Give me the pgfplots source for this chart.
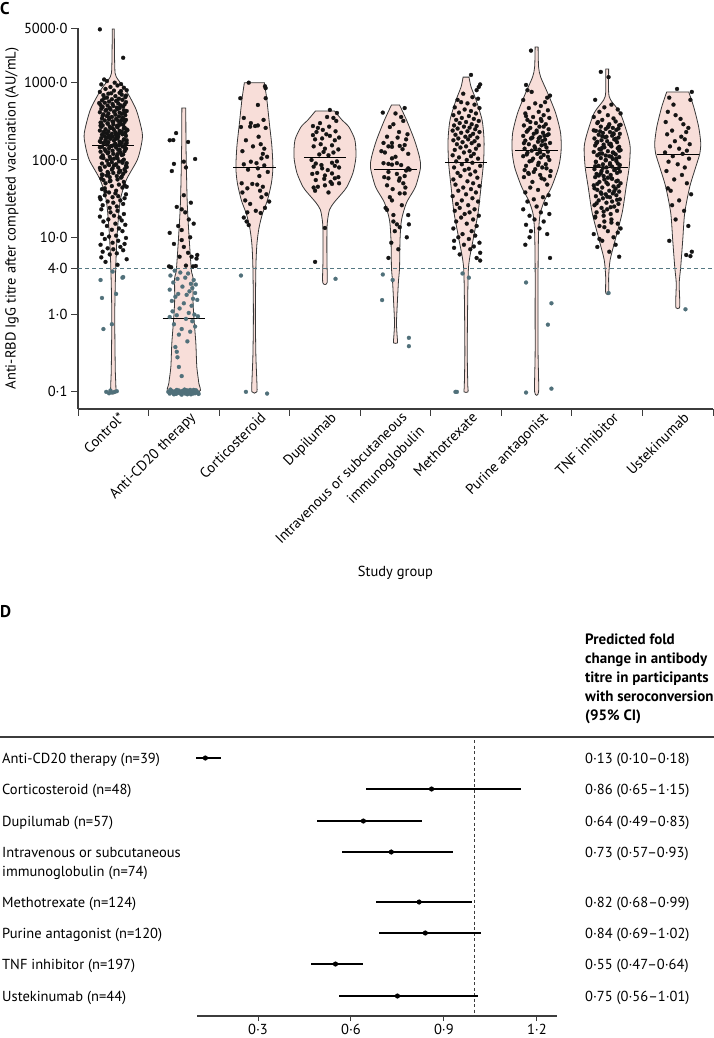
\documentclass[border=0pt]{standalone}
\usepackage{fontspec}
\setmainfont{PT Sans}
\usepackage{pgfplots}
\pgfplotsset{compat=1.18}
\definecolor{vfill}{RGB}{248,222,217}
\definecolor{vline}{RGB}{55,55,55}
\definecolor{tealpt}{RGB}{80,112,122}
\definecolor{dashc}{RGB}{85,120,130}
\definecolor{axgray}{RGB}{60,60,60}
\definecolor{ptblack}{RGB}{20,20,20}
\newcommand{\lf}{\fontsize{14.5}{17}\selectfont}
\pgfplotsset{
  violin/.style={fill=vfill, draw=vline, line width=0.8pt, smooth, tension=0.45},
  blk/.style={only marks, mark=*, mark size=2pt, mark options={draw=ptblack, fill=ptblack, line width=0.2pt}},
  tl/.style={only marks, mark=*, mark size=2pt, mark options={draw=tealpt, fill=tealpt, line width=0.2pt}},
  med/.style={black, line width=1pt},
}
\begin{document}
\begin{tikzpicture}
\path[use as bounding box] (0pt,0pt) rectangle (714pt,-1038pt);
\node[anchor=west, inner sep=0pt, font=\bfseries\fontsize{17}{20}\selectfont] at (0pt,-9pt) {C};
\begin{axis}[
  at={(78pt,-409pt)}, anchor=south west,
  width=635pt, height=381pt, scale only axis,
  xmin=-0.5, xmax=8.5, ymode=log, ymin=0.06, ymax=5100,
  axis lines=left, axis line style={-, draw=axgray, line width=1.1pt},
  tick align=outside, major tick length=7pt, tick style={axgray, line width=1pt},
  yminorticks=false,
  ytick={0.1,1,4,10,100,1000,5000},
  yticklabels={0·1,1·0,4·0,10·0,100·0,1000·0,5000·0},
  yticklabel style={font=\lf},
  xtick={-0.5,0.5,...,8.5},
  xticklabels={,,,,,,,,,},
  extra x ticks={0,1,2,3,4,5,6,7,8},
  extra x tick labels={Control*,Anti-CD20 therapy,Corticosteroid,Dupilumab,Intravenous or subcutaneous,Methotrexate,Purine antagonist,TNF inhibitor,Ustekinumab},
  extra x tick style={major tick length=0pt, xticklabel style={rotate=45, anchor=north east, font=\lf, inner sep=1pt, yshift=-4pt, xshift=3pt}},
  ylabel={Anti-RBD IgG titre after completed vaccination (AU/mL)},
  ylabel style={font=\lf, at={(axis description cs:-0.104,0.5)}, anchor=center},
  xlabel={Study group},
  xlabel style={font=\lf, at={(axis description cs:0.5,-0.43)}, anchor=center},
]
% violins
\addplot[violin] coordinates {(0.014,4950) (0.021,1600) (0.042,1190) (0.177,805) (0.326,444) (0.411,223) (0.397,156) (0.34,100) (0.184,55) (0.099,30) (0.057,11.4) (0.035,4.1) (0.021,1.0) (0.028,0.2) (0.035,0.1) (-0.035,0.1) (-0.028,0.2) (-0.021,1.0) (-0.035,4.1) (-0.057,11.4) (-0.099,30) (-0.184,55) (-0.34,100) (-0.397,156) (-0.411,223) (-0.326,444) (-0.177,805) (-0.042,1190) (-0.021,1600) (-0.014,4950)} -- cycle;
\addplot[violin] coordinates {(1.028,470) (1.031,150) (1.047,30) (1.071,11.4) (1.106,3.8) (1.13,3.0) (1.13,1.54) (1.142,0.93) (1.17,0.43) (1.184,0.21) (1.212,0.13) (1.212,0.1) (0.788,0.1) (0.788,0.13) (0.816,0.21) (0.83,0.43) (0.858,0.93) (0.87,1.54) (0.87,3.0) (0.894,3.8) (0.929,11.4) (0.953,30) (0.969,150) (0.972,470)} -- cycle;
\addplot[violin] coordinates {(2.142,1000) (2.177,600) (2.212,300) (2.248,150) (2.262,79) (2.241,50) (2.184,30) (2.113,20) (2.064,13) (2.035,8) (2.021,4) (2.014,1) (2.021,0.3) (2.033,0.15) (2.035,0.1) (1.965,0.1) (1.967,0.15) (1.979,0.3) (1.986,1) (1.979,4) (1.965,8) (1.936,13) (1.887,20) (1.816,30) (1.759,50) (1.738,79) (1.752,150) (1.788,300) (1.823,600) (1.858,1000)} -- cycle;
\addplot[violin] coordinates {(3.135,430) (3.241,330) (3.34,267) (3.425,181) (3.439,109) (3.397,68) (3.312,45) (3.241,37) (3.127,28) (3.064,22.6) (3.035,16) (3.028,11.4) (3.028,5) (3.031,2.6) (2.969,2.6) (2.972,5) (2.972,11.4) (2.965,16) (2.936,22.6) (2.873,28) (2.759,37) (2.688,45) (2.603,68) (2.561,109) (2.575,181) (2.66,267) (2.759,330) (2.865,430)} -- cycle;
\addplot[violin] coordinates {(4.057,515) (4.156,329) (4.269,181) (4.34,109) (4.354,79) (4.283,45) (4.156,28) (4.085,16.7) (4.064,9.2) (4.057,4) (4.042,2.7) (4.028,1.54) (4.014,0.78) (4.025,0.5) (4.028,0.43) (3.972,0.43) (3.975,0.5) (3.986,0.78) (3.972,1.54) (3.958,2.7) (3.943,4) (3.936,9.2) (3.915,16.7) (3.844,28) (3.717,45) (3.646,79) (3.66,109) (3.731,181) (3.844,329) (3.943,515)} -- cycle;
\addplot[violin] coordinates {(5.042,1180) (5.071,880) (5.142,597) (5.227,329) (5.255,181) (5.248,94) (5.212,44.8) (5.17,20.6) (5.099,9.2) (5.035,4.1) (5.021,1) (5.017,0.3) (5.025,0.12) (5.028,0.1) (4.972,0.1) (4.975,0.12) (4.983,0.3) (4.979,1) (4.965,4.1) (4.901,9.2) (4.83,20.6) (4.788,44.8) (4.752,94) (4.745,181) (4.773,329) (4.858,597) (4.929,880) (4.958,1180)} -- cycle;
\addplot[violin] coordinates {(6.021,2900) (6.028,1600) (6.057,1186) (6.156,736) (6.269,406) (6.34,223) (6.347,131) (6.312,81) (6.212,44.8) (6.113,30) (6.05,20) (6.028,11.4) (6.021,4) (6.021,1) (6.021,0.3) (6.028,0.1) (5.972,0.1) (5.979,0.3) (5.979,1) (5.979,4) (5.972,11.4) (5.95,20) (5.887,30) (5.788,44.8) (5.688,81) (5.653,131) (5.66,223) (5.731,406) (5.844,736) (5.943,1186) (5.972,1600) (5.979,2900)} -- cycle;
\addplot[violin] coordinates {(7.021,1500) (7.021,750) (7.05,597) (7.184,406) (7.283,223) (7.326,147) (7.312,81) (7.269,44.8) (7.212,20.6) (7.113,9.2) (7.042,5.09) (7.021,3.06) (7.021,1.9) (6.979,1.9) (6.979,3.06) (6.958,5.09) (6.887,9.2) (6.788,20.6) (6.731,44.8) (6.688,81) (6.674,147) (6.717,223) (6.816,406) (6.95,597) (6.979,750) (6.979,1500)} -- cycle;
\addplot[violin] coordinates {(8.156,760) (8.227,485) (8.297,267) (8.326,166) (8.312,120) (8.255,81) (8.17,44.8) (8.099,20.6) (8.071,9.2) (8.042,4.1) (8.021,2.56) (8.028,1.54) (8.024,1.22) (7.976,1.22) (7.972,1.54) (7.979,2.56) (7.958,4.1) (7.929,9.2) (7.901,20.6) (7.83,44.8) (7.745,81) (7.688,120) (7.674,166) (7.703,267) (7.773,485) (7.844,760)} -- cycle;
% threshold
\addplot[dashc, line width=1pt, dash pattern=on 4pt off 3pt] coordinates {(-0.5,4) (8.5,4)};
% medians
\addplot[med] coordinates {(-0.3,156) (0.3,156)};
\addplot[med] coordinates {(0.7,0.9) (1.3,0.9)};
\addplot[med] coordinates {(1.7,79) (2.3,79)};
\addplot[med] coordinates {(2.7,107) (3.3,107)};
\addplot[med] coordinates {(3.7,75.8) (4.3,75.8)};
\addplot[med] coordinates {(4.7,93.4) (5.3,93.4)};
\addplot[med] coordinates {(5.7,131) (6.3,131)};
\addplot[med] coordinates {(6.7,80.4) (7.3,80.4)};
\addplot[med] coordinates {(7.7,118) (8.3,118)};
% Control points
\addplot[blk] table {
x y
-0.19 4900
0.14 2100
-0.13 1100
-0.09 1050
0.02 1000
0.11 960
-0.17 950
0.06 920
-0.04 880
0.15 860
-0.11 830
0.19 800
0.01 790
-0.19 760
0.09 740
-0.07 720
0.12 700
-0.14 690
0.03 670
0.17 650
-0.09 640
0.08 620
-0.02 610
0.13 600
-0.16 590
0.04 580
-0.06 570
0.18 560
-0.12 550
0.07 540
-0.01 530
0.16 525
-0.18 515
0.10 510
-0.08 505
0.00 500
0.14 490
-0.15 485
0.05 475
-0.05 470
-0.17 460
0.06 455
-0.04 450
0.15 440
-0.11 435
0.19 430
0.01 420
-0.19 415
0.09 410
-0.07 400
0.12 395
-0.14 390
0.03 385
0.17 380
-0.09 370
0.08 365
-0.02 360
0.13 350
-0.16 345
0.04 340
-0.06 335
0.18 330
-0.12 325
0.07 320
-0.01 315
0.16 310
-0.18 305
0.10 300
-0.08 295
0.00 290
0.14 285
-0.15 280
0.05 275
-0.05 270
-0.17 268
0.06 265
-0.04 260
0.15 255
-0.11 250
0.19 248
0.01 245
-0.19 240
0.09 238
-0.07 235
0.12 232
-0.14 230
0.03 228
0.17 225
-0.09 222
0.08 220
-0.02 218
0.13 215
-0.16 212
0.04 210
-0.06 208
0.18 205
-0.12 203
0.07 201
-0.01 200
0.16 262
-0.18 278
0.10 288
-0.08 298
0.00 312
0.14 342
-0.15 372
0.11 780
-0.03 730
0.18 680
-0.13 630
0.05 585
-0.20 545
0.09 470
-0.10 445
0.02 425
0.16 405
-0.06 355
0.12 328
-0.17 302
0.07 282
-0.01 258
0.20 243
-0.13 226
0.04 213
-0.08 196
0.15 183
-0.18 171
0.10 161
-0.04 151
0.17 139
-0.11 131
0.06 119
-0.15 111
0.01 104
0.13 97
-0.07 89
0.19 81
-0.02 75
0.08 69
-0.16 65
0.11 59
-0.05 53
0.16 47
-0.12 43
0.03 37
-0.19 33
0.05 198
-0.05 195
-0.17 192
0.06 190
-0.04 188
0.15 185
-0.11 182
0.19 180
0.01 178
-0.19 175
0.09 172
-0.07 170
0.12 168
-0.14 165
0.03 162
0.17 160
-0.09 158
0.08 155
-0.02 152
0.13 150
-0.16 148
0.04 145
-0.06 142
0.18 140
-0.12 138
0.07 135
-0.01 132
0.16 130
-0.18 128
0.10 125
-0.08 122
0.00 120
0.14 118
-0.15 115
0.05 112
-0.05 110
-0.17 108
0.06 105
-0.04 103
0.15 101
-0.11 176
0.19 166
0.01 156
-0.19 146
0.09 136
-0.07 126
0.12 116
-0.14 106
0.03 187
0.17 143
-0.09 98
0.08 96
-0.02 94
0.13 92
-0.16 90
0.04 88
-0.06 86
0.18 84
-0.12 82
0.07 80
-0.01 78
0.16 76
-0.18 74
0.10 72
-0.08 70
0.00 68
0.14 66
-0.15 64
0.05 62
-0.05 60
-0.17 58
0.06 56
-0.04 54
0.15 52
-0.11 50
0.19 91
0.01 85
-0.19 79
0.09 73
-0.07 67
0.12 61
-0.14 55
0.03 87
0.17 71
-0.09 63
0.08 48
-0.02 46
0.13 44
-0.16 42
0.04 40
-0.06 38
0.18 36
-0.12 35
0.07 34
-0.01 33
0.16 32
-0.18 31
0.10 30
-0.08 29
0.00 28
0.14 27
-0.15 26
0.05 25
-0.05 24
-0.17 23
0.06 22
-0.04 21
0.15 20
-0.11 39
0.19 45
0.01 19
-0.19 18.5
0.09 18
-0.07 17
0.12 16.5
-0.14 16
0.03 15
0.17 14.5
-0.09 14
0.08 13
-0.02 12.5
0.13 12
-0.16 11
0.04 10.5
-0.06 10.2
0.18 9.8
-0.12 9.5
0.07 9
-0.01 8.5
0.16 8.2
-0.18 8
0.10 7.5
-0.08 7.2
0.00 7
0.14 6.8
-0.15 6.5
0.05 6.2
-0.05 6
-0.17 5.5
0.19 5.2
-0.11 4.8
0.06 4.4
};
\addplot[tl] table {
x y
-0.18 2.8
-0.16 1.64
0.04 1.85
0.14 3.06
0.13 3.0
-0.14 0.65
-0.02 0.75
-0.01 3.6
-0.10 0.1
-0.06 0.096
-0.04 0.104
-0.02 0.098
0.02 0.1
0.05 0.102
};
% Anti-CD20
\addplot[blk] table {
x y
0.85 181
0.80 180
0.89 223
1.06 171
1.16 103
0.86 89
0.83 72
1.00 95
1.03 80
1.00 35
0.90 24.7
0.97 23
1.02 21
1.10 28
1.07 17
1.14 15
0.80 11.4
0.97 12.4
0.86 8.2
0.97 9.2
1.00 7.5
0.94 5.6
1.11 5.6
1.19 5.9
1.18 5.3
1.03 4.3
0.79 4.2
0.82 4.1
1.13 4.2
1.17 4.25
1.06 6.3
0.92 14
1.09 10
};
\addplot[tl] table {
x y
0.87 3.7
0.95 3.5
1.06 3.4
0.81 3.2
1.02 3.0
0.91 2.9
1.14 2.8
0.85 2.6
1.10 2.5
1.17 2.45
0.98 2.3
1.12 2.2
0.80 2.1
1.08 2.0
1.16 1.9
0.92 1.85
1.04 1.8
0.88 1.7
1.13 1.6
1.19 1.55
0.83 1.5
1.00 1.4
1.11 1.3
0.94 1.2
0.84 1.1
1.07 1.05
1.15 1.0
0.90 0.98
1.20 0.95
0.80 0.93
1.03 0.88
1.12 0.82
0.86 0.75
1.16 0.70
0.97 0.65
1.09 0.60
0.93 0.55
0.88 0.38
0.91 0.28
0.93 0.21
0.97 0.16
0.90 0.33
1.05 0.45
0.78 0.100
0.80 0.095
0.82 0.104
0.84 0.098
0.86 0.093
0.88 0.102
0.90 0.106
0.92 0.097
0.94 0.100
0.96 0.094
0.98 0.103
1.00 0.099
1.02 0.095
1.04 0.105
1.06 0.097
1.08 0.101
1.10 0.093
1.12 0.100
1.14 0.106
1.16 0.096
1.18 0.102
1.20 0.098
1.21 0.094
0.81 0.107
0.85 0.101
0.89 0.094
0.93 0.104
0.97 0.092
1.01 0.107
1.05 0.093
1.09 0.106
1.13 0.095
1.17 0.105
0.87 0.097
1.07 0.103
};
% Corticosteroid
\addplot[blk] table {
x y
1.80 630
1.92 1000
2.15 900
2.16 850
2.16 630
2.05 515
1.81 267
1.94 270
2.01 275
2.05 280
2.16 260
1.88 180
2.09 160
1.83 130
2.12 120
2.18 110
2.10 105
1.95 95
2.03 91
1.85 88
2.14 85
2.05 78
1.91 75
2.19 70
2.07 62
1.82 50
1.97 49
2.04 48
2.12 45
1.90 43
2.08 40
1.83 38
2.17 36
2.10 33
1.87 30
2.21 29
1.94 27
2.15 24
2.02 22
1.90 21
2.09 20.6
1.85 18
1.89 16
1.92 14.4
1.95 300
2.13 330
1.85 350
2.06 200
1.98 150
2.14 140
};
\addplot[tl] table {
x y
1.81 3.2
1.88 0.1
2.18 0.095
};
% Dupilumab
\addplot[blk] table {
x y
3.07 444
3.03 360
3.17 406
2.83 275
2.90 260
2.97 245
3.06 270
3.15 235
2.83 210
2.86 185
2.96 190
3.07 205
3.14 180
3.20 195
2.84 150
2.94 160
3.00 140
3.10 155
3.19 137
2.81 100
2.92 118
2.98 127
3.05 115
3.12 125
2.87 90
2.95 86
3.10 92
3.17 96
3.20 80
2.84 82
2.96 78
3.04 74
3.14 84
2.82 66
2.89 68
3.00 63
3.10 67
3.19 60
2.87 55
2.99 57
3.08 52
3.14 58
2.90 45
3.00 47
3.10 49
3.20 50
2.84 44
2.86 40
3.05 38
3.12 350
2.93 300
3.16 320
2.88 230
3.02 215
3.00 13.2
2.86 4.8
};
\addplot[tl] table {
x y
3.15 2.9
};
% IVIG
\addplot[blk] table {
x y
4.13 470
3.92 267
4.05 230
3.83 166
3.95 166
3.90 150
3.95 148
4.06 152
4.13 156
4.15 185
3.83 91
3.90 89
3.95 87
4.02 91
4.08 86
4.18 78
4.15 73
4.20 75
3.90 58
4.06 58
4.13 62
3.88 47
4.05 54
4.11 50
4.06 37
4.13 37
3.92 33
3.95 30
3.88 22.6
3.97 19.4
4.18 19.4
3.97 16
4.02 14.7
4.06 13.5
4.19 14.7
3.99 12
3.90 5.4
3.95 105
4.00 110
4.18 120
3.85 125
3.80 130
4.10 138
3.88 200
4.03 195
4.17 215
3.97 290
4.11 320
4.00 400
3.82 410
4.08 360
3.90 70
4.02 66
3.84 60
4.14 44
3.96 42
4.09 26
3.86 24
4.16 10
3.94 8.5
4.04 7
};
\addplot[tl] table {
x y
3.82 3.3
3.96 2.8
3.81 1.54
4.19 0.50
4.19 0.39
};
% Methotrexate
\addplot[blk] table {
x y
5.07 1260
5.18 880
5.20 950
5.15 800
4.96 720
5.09 650
4.88 600
5.17 620
4.93 560
5.02 540
5.12 520
4.84 480
5.19 470
4.98 450
5.07 430
4.90 410
5.14 400
4.82 380
5.04 370
4.94 350
5.11 340
4.86 330
5.18 320
5.00 310
4.91 300
5.08 290
4.83 280
5.15 275
4.97 270
5.05 262
4.88 255
5.13 250
4.81 240
5.02 235
5.19 230
4.93 225
5.10 218
4.85 212
5.06 205
4.99 200
5.16 195
4.89 190
5.03 185
4.82 180
5.12 175
4.95 170
5.08 165
4.87 160
5.18 155
5.00 150
4.92 145
5.14 140
4.84 135
5.05 130
4.97 125
5.11 120
4.81 115
5.07 112
4.90 108
5.17 104
5.01 100
4.86 96
5.09 92
4.94 88
5.20 84
4.83 80
5.04 77
4.98 74
5.13 71
4.88 68
5.06 65
4.92 62
5.16 59
4.82 56
5.02 53
5.10 50
4.85 48
5.19 46
4.96 44
5.07 42
4.89 40
5.14 38
5.00 36
4.81 34
5.09 32
4.94 30
5.17 29
4.87 27
5.03 26
4.91 24
5.12 23
4.84 22
5.05 21
4.98 20
5.18 19
4.93 18
5.10 17
4.86 16
5.01 15
5.15 14
4.82 13
5.08 12
4.95 11
5.13 10.5
4.89 10
5.04 9.5
4.83 9
5.19 8.5
4.97 8
5.11 7.6
4.83 7.3
5.06 7
5.20 6.3
4.91 6
5.15 5.4
5.20 5.0
};
\addplot[tl] table {
x y
4.95 3.4
5.04 3.0
4.85 0.1
4.87 0.1
};
% Purine antagonist
\addplot[blk] table {
x y
5.92 2600
5.85 935
5.87 800
5.93 760
6.19 680
6.15 640
5.81 597
6.12 560
5.98 540
6.06 500
5.89 470
6.16 440
6.03 420
5.84 400
6.10 380
5.95 360
6.18 350
5.87 330
6.07 320
5.99 300
6.13 290
5.82 280
6.04 270
5.91 260
6.17 250
6.00 240
5.86 232
6.09 225
5.96 218
6.15 210
5.81 205
6.05 198
5.92 190
6.12 184
5.84 178
6.02 172
6.19 166
5.89 160
6.07 155
5.97 150
6.14 145
5.83 140
6.04 136
5.93 132
6.16 128
5.87 124
6.01 120
6.10 116
5.81 112
6.06 108
5.95 104
6.18 100
5.90 96
6.03 92
6.13 88
5.85 84
6.08 80
5.98 76
6.20 72
5.88 68
6.05 64
5.82 60
6.11 56
5.94 52
6.15 48
5.91 44
6.02 41
5.84 38
6.17 35
6.09 33
5.96 31
5.87 29
6.13 27
6.00 25
5.81 23
6.06 21
6.18 20
5.90 19
5.97 17
6.10 16
5.85 14.5
6.04 13
5.92 12
6.15 11
6.19 5.4
5.90 10
5.84 8
6.10 270
5.88 245
6.00 228
6.17 215
5.94 195
6.08 176
5.82 165
6.12 158
5.98 142
6.05 126
5.86 118
6.16 110
5.93 98
6.02 86
6.14 78
5.89 66
6.07 58
5.96 70
6.19 62
5.83 74
6.03 190
6.11 205
5.91 310
6.06 340
5.85 370
};
\addplot[tl] table {
x y
5.85 2.6
6.21 1.4
6.16 0.74
5.85 0.098
6.21 0.11
};
% TNF inhibitor
\addplot[blk] table {
x y
6.91 1380
7.02 1180
6.83 600
7.06 520
6.96 480
7.15 450
6.89 420
7.19 400
7.01 380
6.81 360
7.09 345
6.93 330
7.12 315
6.86 300
7.03 290
7.17 280
6.91 270
7.08 260
6.98 252
7.13 245
6.84 238
7.04 230
6.94 224
7.18 218
6.88 212
7.07 206
6.99 200
7.16 195
6.82 190
7.10 185
6.92 180
7.00 175
7.14 170
6.85 166
7.05 162
6.95 158
6.83 154
7.06 150
6.96 146
7.15 142
6.89 138
7.19 134
7.01 130
6.81 127
7.09 124
6.93 121
7.12 118
6.86 115
7.03 112
7.17 109
6.91 106
7.08 103
6.98 100
7.13 97
6.84 94
7.04 91
6.94 88
7.18 86
6.88 84
7.07 82
6.99 80
7.16 78
6.82 76
7.10 74
6.92 72
7.00 70
7.14 68
6.85 66
7.05 64
6.95 62
6.83 60
7.06 58
6.96 56
7.15 54
6.89 52
7.19 50
7.01 48.5
6.81 47
7.09 45.5
6.93 44
7.12 42.5
6.86 41
7.03 40
7.17 39
6.91 38
7.08 37
6.98 36
7.13 35
6.84 34
7.04 33
6.94 32
7.18 31
6.88 30
7.07 29
6.99 28
7.16 27
6.82 26
7.10 25
6.92 24
7.00 23
7.14 22
6.85 21
7.05 20
6.95 19
6.83 18
7.06 17
6.96 16
7.15 15
6.89 14
7.19 13
7.01 12
6.81 11
7.09 10
6.93 9
7.12 8
6.86 7.5
7.03 6.5
7.17 5.6
7.19 285
7.01 265
6.81 242
7.09 221
6.93 203
7.12 188
6.86 172
7.03 160
7.17 148
6.91 136
7.08 125
6.98 114
7.13 104
6.84 95
7.04 87
6.94 79
7.18 71
6.88 63
7.07 57
6.99 51
7.16 46
6.82 43
7.10 39.5
6.92 36.5
7.00 33.5
7.14 30.5
6.85 27.5
7.05 24.5
6.95 21.5
6.83 18.5
7.06 15.5
6.96 13.5
7.15 11.5
6.89 9.5
6.87 310
7.02 275
7.16 255
6.90 235
7.09 215
6.97 197
7.12 182
6.85 168
7.05 156
6.93 144
7.17 132
6.89 120
7.06 110
6.98 99
7.15 90
6.83 83
7.11 75
6.91 67
7.01 59
7.13 53
6.86 49
};
\addplot[tl] table {
x y
7.02 1.9
};
% Ustekinumab
\addplot[blk] table {
x y
7.99 830
8.20 760
7.88 640
8.18 600
7.94 520
7.86 420
7.97 380
8.04 340
7.83 310
8.08 290
8.15 260
7.92 240
8.12 230
7.85 215
8.05 200
8.10 185
7.96 175
8.17 160
7.89 150
8.02 140
8.13 132
7.82 125
8.07 120
7.93 112
8.16 104
7.87 95
8.00 88
8.10 80
7.84 72
8.06 64
7.95 56
8.13 50
7.86 43
7.90 40
8.19 36
8.02 30
7.92 26
8.09 22
7.97 17
8.15 14
7.88 9
8.20 6.5
8.18 5.7
8.12 5.9
};
\addplot[tl] table {
x y
8.11 1.17
};
\end{axis}
\node[rotate=45, anchor=north east, font=\lf, inner sep=1pt] at (418pt,-423pt) {immunoglobulin};
% Panel D
\node[anchor=west, inner sep=0pt, font=\bfseries\fontsize{17}{20}\selectfont] at (0pt,-612pt) {D};
\begin{scope}[font=\bfseries\fontsize{15}{19}\selectfont]
\node[anchor=base west, inner sep=0pt] at (585pt,-644pt) {Predicted fold};
\node[anchor=base west, inner sep=0pt] at (585pt,-663pt) {change in antibody};
\node[anchor=base west, inner sep=0pt] at (585pt,-682pt) {titre in participants};
\node[anchor=base west, inner sep=0pt] at (585pt,-701pt) {with seroconversion};
\node[anchor=base west, inner sep=0pt] at (585pt,-720pt) {(95\% CI)};
\end{scope}
\draw[axgray, line width=1.3pt] (0pt,-737pt) -- (714pt,-737pt);
\begin{axis}[
  at={(197pt,-1016pt)}, anchor=south west,
  width=360pt, height=276pt, scale only axis,
  xmin=0.103, xmax=1.265, ymin=-1016, ymax=-740,
  axis x line=bottom, axis y line=none,
  axis line style={-, draw=axgray, line width=1.1pt},
  xtick={0.3,0.6,0.9,1.2}, xticklabels={0·3,0·6,0·9,1·2},
  tick align=outside, major tick length=5pt, tick style={axgray, line width=1pt},
  xticklabel style={font=\lf},
  clip=false,
]
\addplot[axgray, line width=1pt, dash pattern=on 3pt off 2.5pt] coordinates {(1,-740) (1,-1016)};
\addplot[only marks, mark=*, mark size=2.3pt, mark options={fill=black, draw=black},
  error bars/.cd, x dir=both, x explicit, error mark=none,
  error bar style={line width=1.3pt, black}]
  table[x=x, y=y, x error plus=ep, x error minus=em] {
x y ep em
0.13 -758 0.05 0.03
0.86 -789 0.29 0.21
0.64 -821 0.19 0.15
0.73 -852 0.20 0.16
0.82 -902 0.17 0.14
0.84 -933 0.18 0.15
0.55 -964 0.09 0.08
0.75 -996 0.26 0.19
};
\end{axis}
\begin{scope}[font=\lf]
\node[anchor=base west, inner sep=0pt] at (2pt,-763pt) {Anti-CD20 therapy (n=39)};
\node[anchor=base west, inner sep=0pt] at (2pt,-794pt) {Corticosteroid (n=48)};
\node[anchor=base west, inner sep=0pt] at (2pt,-826pt) {Dupilumab (n=57)};
\node[anchor=base west, inner sep=0pt] at (2pt,-857pt) {Intravenous or subcutaneous};
\node[anchor=base west, inner sep=0pt] at (2pt,-876pt) {immunoglobulin (n=74)};
\node[anchor=base west, inner sep=0pt] at (2pt,-907pt) {Methotrexate (n=124)};
\node[anchor=base west, inner sep=0pt] at (2pt,-938pt) {Purine antagonist (n=120)};
\node[anchor=base west, inner sep=0pt] at (2pt,-969pt) {TNF inhibitor (n=197)};
\node[anchor=base west, inner sep=0pt] at (2pt,-1001pt) {Ustekinumab (n=44)};
\node[anchor=base west, inner sep=0pt] at (585pt,-763pt) {0·13 (0·10–0·18)};
\node[anchor=base west, inner sep=0pt] at (585pt,-794pt) {0·86 (0·65–1·15)};
\node[anchor=base west, inner sep=0pt] at (585pt,-826pt) {0·64 (0·49–0·83)};
\node[anchor=base west, inner sep=0pt] at (585pt,-857pt) {0·73 (0·57–0·93)};
\node[anchor=base west, inner sep=0pt] at (585pt,-907pt) {0·82 (0·68–0·99)};
\node[anchor=base west, inner sep=0pt] at (585pt,-938pt) {0·84 (0·69–1·02)};
\node[anchor=base west, inner sep=0pt] at (585pt,-969pt) {0·55 (0·47–0·64)};
\node[anchor=base west, inner sep=0pt] at (585pt,-1001pt) {0·75 (0·56–1·01)};
\end{scope}
\end{tikzpicture}
\end{document}
